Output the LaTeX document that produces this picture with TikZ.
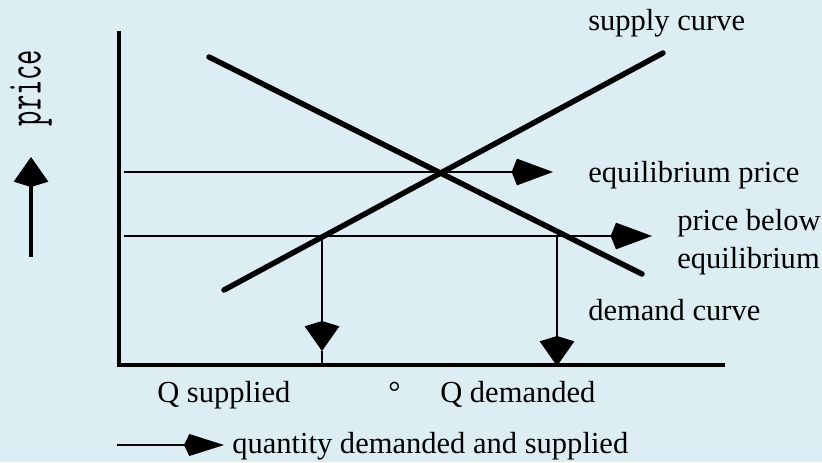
\documentclass[tikz,border=0pt]{standalone}
\usepackage{fontspec}
\setmainfont{Liberation Serif}
\usepackage{tikz}
\usetikzlibrary{arrows.meta}
\definecolor{bgblue}{RGB}{220,237,243}

\tikzset{
  curveline/.style={line width=4.1pt, line cap=round},
  guideline/.style={line width=2pt},
  axisline/.style={line width=2.4pt},
  harrow/.style={-{Kite[length=31pt,width=20pt,inset=4pt]}},
  varrow/.style={-{Kite[length=22.5pt,width=26pt,inset=4pt]}},
  lbl/.style={anchor=base west, inner sep=0pt, font=\fontsize{22.9}{27}\selectfont},
}

\begin{document}
\begin{tikzpicture}[x=0.75pt, y=-0.75pt]
  % background, 822 x 462 px
  \fill[bgblue] (0,0) rectangle (822,462);
  \useasboundingbox (0,0) rectangle (822,462);
  % axes
  \coordinate (ytop) at (119,31);
  \coordinate (origin) at (119,365);
  \coordinate (xend) at (725,365);
  \draw[axisline] (ytop) -- (origin) -- (xend);
  % supply and demand curves
  \coordinate (s0) at (224,290);
  \coordinate (s1) at (663,53);
  \coordinate (d0) at (209,57);
  \coordinate (d1) at (642,274);
  \draw[curveline] (s0) -- (s1);
  \draw[curveline] (d0) -- (d1);
  % equilibrium price line
  \coordinate (eqstart) at (124,172);
  \coordinate (eqtip) at (553,172);
  \draw[guideline, harrow] (eqstart) -- (eqtip);
  % price below equilibrium
  \coordinate (lowstart) at (124,236);
  \coordinate (lowtip) at (652,236);
  \draw[guideline, harrow] (lowstart) -- (lowtip);
  % drops to the quantity axis
  \coordinate (qsup) at (322,236);
  \coordinate (qsuptip) at (322,351);
  \coordinate (qsupaxis) at (322,365);
  \coordinate (qdem) at (557,236);
  \coordinate (qdemtip) at (557,366);
  \draw[guideline, varrow] (qsup) -- (qsuptip);
  \draw[guideline] (qsuptip) -- (qsupaxis);
  \draw[guideline, varrow] (qdem) -- (qdemtip);
  % labels on the right
  \node[lbl] (supplylbl) at (588,30) {supply curve};
  \node[lbl] (eqlbl) at (588,182) {equilibrium price};
  \node[lbl] (belowlbl) at (677,230) {price below};
  \node[lbl] (belowlbltwo) at (677,268) {equilibrium};
  \node[lbl] (demandlbl) at (588,320) {demand curve};
  % labels under the axis
  \node[lbl] (qsuplbl) at (157,402) {Q supplied};
  \node[lbl] (degree) at (388,402) {°};
  \node[lbl] (qdemlbl) at (440,402) {Q demanded};
  % price axis legend
  \node[inner sep=0pt, rotate=90, yscale=1.7, font=\ttfamily\fontsize{22.3}{26}\selectfont] (pricelbl) at (31,88) {price};
  \coordinate (upstart) at (31,257);
  \coordinate (uptip) at (31,157);
  \draw[line width=2.4pt, varrow] (upstart) -- (uptip);
  % quantity legend
  \coordinate (qstart) at (117,445);
  \coordinate (qtip) at (224,445);
  \draw[guideline, -{Kite[length=30pt,width=16.5pt,inset=4pt]}] (qstart) -- (qtip);
  \node[lbl] (qlbl) at (232,453) {quantity demanded and supplied};
\end{tikzpicture}
\end{document}
